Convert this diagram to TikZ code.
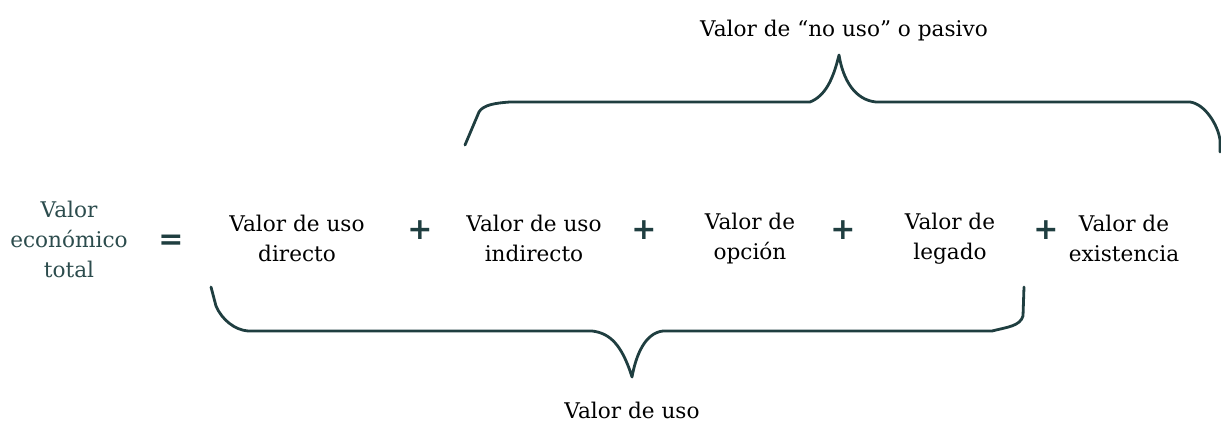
\documentclass[tikz,border=0pt]{standalone}
\usepackage{fontspec}
\setmainfont{DejaVu Serif}
\newfontfamily\symfont{DejaVu Sans}
\definecolor{tealdark}{HTML}{1F3E40}
\definecolor{tealtext}{HTML}{2C4C4D}
\begin{document}
\begin{tikzpicture}[x=1pt,y=-1pt,
  lbl/.style={inner sep=0pt,align=center,font=\fontsize{21.6}{30}\selectfont,text=black,anchor=center},
  lblb/.style={lbl,anchor=base},
  sym/.style={inner sep=0pt,font=\symfont\bfseries\fontsize{30}{30}\selectfont,text=tealdark,anchor=center},
  brace/.style={draw=tealdark,line width=2.8pt,line join=round,line cap=round}]
\useasboundingbox (0,0) rectangle (1221,427);
\node[lbl,text=tealtext] (vet) at (69,239) {Valor\\económico\\total};
\node[sym] (eq) at (171,242) {=};
\node[lbl] (dir) at (297,238) {Valor de uso\\directo};
\node[sym] (p1) at (420,230) {+};
\node[lbl] (ind) at (534,238) {Valor de uso\\indirecto};
\node[sym] (p2) at (644,230) {+};
\node[lbl] (opc) at (750,239) {Valor de\\opción};
\node[sym] (p3) at (843,230) {+};
\node[lbl] (leg) at (950,239) {Valor de\\legado};
\node[sym] (p4) at (1046,230) {+};
\node[lbl] (exi) at (1124,238) {Valor de\\existencia};
\node[lblb] (nouso) at (844,37) {Valor de “no uso” o pasivo};
\node[lblb] (uso) at (632,419) {Valor de uso};
% top brace
\draw[brace] (465,145) -- (479,112) .. controls (483,105) and (495,103) .. (510,102)
  -- (810,102) .. controls (825,96) and (833,80) .. (839,55)
  .. controls (843,80) and (855,100) .. (876,102)
  -- (1190,102) .. controls (1205,104) and (1218,125) .. (1220,140) -- (1220,152);
% bottom brace
\draw[brace] (211,287) -- (216,306) .. controls (222,320) and (235,330) .. (248,331)
  -- (592,331) .. controls (610,333) and (622,345) .. (632,377)
  .. controls (636,355) and (645,333) .. (663,331)
  -- (992,331) .. controls (1008,327) and (1020,326) .. (1023,316) -- (1024,287);
\end{tikzpicture}
\end{document}
